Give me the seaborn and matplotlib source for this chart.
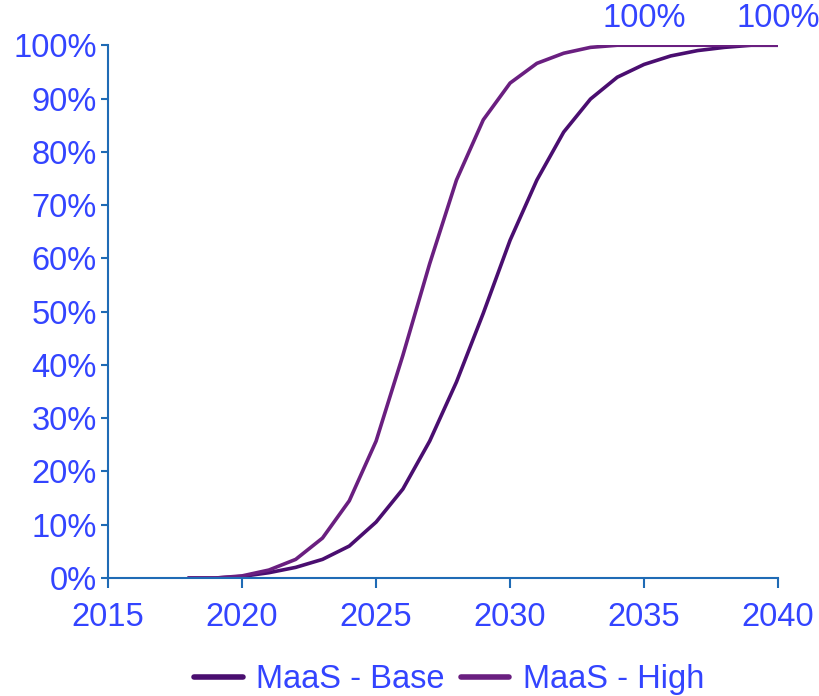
import matplotlib
matplotlib.use("Agg")
import matplotlib.pyplot as plt
import seaborn as sns
import pandas as pd

years = list(range(2018, 2041))
base = [0, 0, 0.3, 1.0, 2.0, 3.5, 6.0, 10.5, 16.7, 25.7, 36.8, 49.7, 63.4, 74.7,
        83.7, 89.9, 94.0, 96.4, 98.0, 99.0, 99.6, 100, 100]
high = [0, 0, 0.4, 1.5, 3.5, 7.5, 14.5, 25.7, 41.8, 59.0, 74.7, 86.0, 92.9, 96.6,
        98.5, 99.6, 100, 100, 100, 100, 100, 100, 100]
series_names = ["MaaS - Base", "MaaS - High"]
x_ticks = [2015, 2020, 2025, 2030, 2035, 2040]
y_ticks = list(range(0, 101, 10))
label_years = [2035, 2040]
label_values = [100, 100]

sns.set_theme(style="white")
plt.rcParams["font.family"] = ["Liberation Sans", "DejaVu Sans"]

text_color = "#3344FF"
axis_color = "#1F6BB5"
palette = {"MaaS - Base": "#4A0E70", "MaaS - High": "#6A1F80"}
fs = 23.5

df = pd.DataFrame({
    "year": years * 2,
    "share": base + high,
    "series": [series_names[0]] * len(years) + [series_names[1]] * len(years),
})

fig = plt.figure(figsize=(8.19, 6.96), dpi=100)
ax = fig.add_axes([0.132, 0.1695, 0.818, 0.7655])

sns.lineplot(data=df, x="year", y="share", hue="series", palette=palette,
             linewidth=2.6, ax=ax, legend=True)

ax.set_xlim(2015, 2040)
ax.set_ylim(0, 100)
ax.set_xticks(x_ticks)
ax.set_yticks(y_ticks)
ax.set_yticklabels([f"{v}%" for v in y_ticks])
ax.set_xlabel("")
ax.set_ylabel("")

for side in ["top", "right"]:
    ax.spines[side].set_visible(False)
for side in ["left", "bottom"]:
    ax.spines[side].set_color(axis_color)
    ax.spines[side].set_linewidth(1.5)

ax.tick_params(axis="x", direction="out", length=7, width=1.5, color=axis_color,
               labelcolor=text_color, labelsize=fs, pad=10, bottom=True)
ax.tick_params(axis="y", direction="out", length=5, width=1.5, color=axis_color,
               labelcolor=text_color, labelsize=fs, pad=3, left=True)

for yr, val in zip(label_years, label_values):
    ax.annotate(f"{val}%", xy=(yr, val), xytext=(0, 8), textcoords="offset points",
                ha="center", va="bottom", color=text_color, fontsize=fs,
                annotation_clip=False)

handles, labels = ax.get_legend_handles_labels()
ax.legend_.remove()
fig.legend(handles, labels, loc="center", bbox_to_anchor=(0.548, 0.023),
           ncol=2, frameon=False, fontsize=fs, labelcolor=text_color,
           handlelength=1.5, handletextpad=0.4, columnspacing=0.5)
for h in fig.legends[0].get_lines():
    h.set_linewidth(4)

fig.savefig("out.png", dpi=100)
